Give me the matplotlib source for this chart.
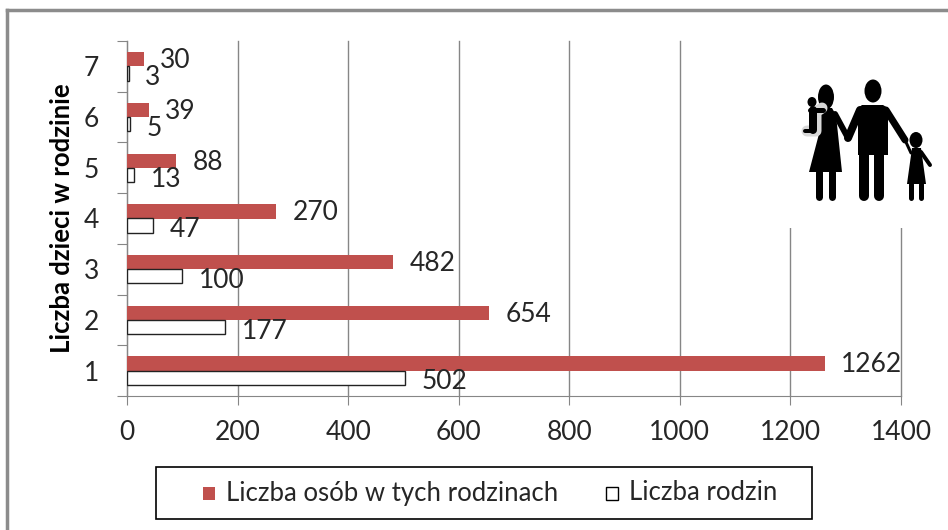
import matplotlib
matplotlib.use("Agg")
import matplotlib.pyplot as plt
from matplotlib.patches import Rectangle, Ellipse, Polygon

plt.rcParams['font.family'] = ['Lato', 'DejaVu Sans']

categories = ["1", "2", "3", "4", "5", "6", "7"]
osoby = [1262, 654, 482, 270, 88, 39, 30]
rodziny = [502, 177, 100, 47, 13, 5, 3]
x_ticks = [0, 200, 400, 600, 800, 1000, 1200, 1400]

W = 948
H = 530
TXT = "#262626"
GRID = "#868686"
RED = "#C0504D"


def px_axes(left, top, right, bottom):
    return [left / W, 1 - bottom / H, (right - left) / W, (bottom - top) / H]


def fx(x):
    return x / W


def fy(y):
    return 1 - y / H


fig = plt.figure(figsize=(W / 100, H / 100), dpi=100)
ax = fig.add_axes(px_axes(127, 41, 901, 396))

# outer frame of the pasted chart
fig.add_artist(plt.Line2D([fx(7), fx(7)], [0, fy(10)], color="#8c8c8c", lw=2.5))
fig.add_artist(plt.Line2D([fx(7), 1], [fy(10), fy(10)], color="#8c8c8c", lw=2.5))

pos = list(range(len(categories)))
bar_h = 0.28
ax.barh([p + bar_h / 2 for p in pos], osoby, height=bar_h, color=RED, zorder=3)
ax.barh([p - bar_h / 2 for p in pos], rodziny, height=bar_h, color="white",
        edgecolor="#222222", linewidth=1, zorder=3)

for p, v in zip(pos, osoby):
    ax.annotate(str(v), (v, p + bar_h / 2), xytext=(12, -1), textcoords="offset points",
                va="center", ha="left", fontsize=19, color=TXT, zorder=5)
for p, v in zip(pos, rodziny):
    ax.annotate(str(v), (v, p - bar_h / 2), xytext=(12, -3), textcoords="offset points",
                va="center", ha="left", fontsize=19, color=TXT, zorder=5)

ax.set_xlim(0, 1400)
ax.set_ylim(-0.5, 6.5)
ax.set_xticks(x_ticks)
ax.set_yticks([p - 0.5 for p in pos] + [6.5])
ax.set_yticklabels([])
ax.set_yticks(pos, minor=True)
ax.set_yticklabels(categories, minor=True)
ax.tick_params(axis="y", which="minor", length=0, labelsize=19, labelcolor=TXT, pad=20)
ax.tick_params(axis="y", which="major", length=7, color=GRID, direction="out")
ax.tick_params(axis="x", length=6.5, color=GRID, labelsize=19, labelcolor=TXT, pad=11)
ax.grid(axis="x", color=GRID, lw=1, zorder=0, clip_on=False)
ax.set_axisbelow(True)
for s in ["top", "right"]:
    ax.spines[s].set_visible(False)
ax.spines["left"].set_color(GRID)
ax.spines["bottom"].set_color(GRID)

fig.text(fx(62), fy(218), "Liczba dzieci w rodzinie", rotation=90, ha="center", va="center",
         fontsize=18.5, fontweight="bold", color="black")

# legend box
fig.add_artist(Rectangle((fx(156), fy(519)), (812 - 156) / W, (519 - 467) / H,
                         transform=fig.transFigure, fc="white", ec="black", lw=1.2))
fig.add_artist(Rectangle((fx(203), fy(500)), 12 / W, 13 / H, transform=fig.transFigure,
                         fc=RED, ec="none"))
fig.text(fx(226), fy(493), "Liczba osób w tych rodzinach", va="center", ha="left",
         fontsize=18.5, color=TXT)
fig.add_artist(Rectangle((fx(606), fy(500)), 12 / W, 13 / H, transform=fig.transFigure,
                         fc="white", ec="black", lw=1))
fig.text(fx(629), fy(493), "Liczba rodzin", va="center", ha="left", fontsize=18.5, color=TXT)

# family icon on a white patch, hides the gridlines behind it
fig.add_artist(Rectangle((fx(786), fy(228)), 162 / W, 188 / H, transform=fig.transFigure,
                         fc="white", ec="none"))


def ell(cx, cy, w, h):
    fig.add_artist(Ellipse((fx(cx), fy(cy)), w / W, h / H, transform=fig.transFigure,
                           fc="black", ec="none"))


def poly(points):
    fig.add_artist(Polygon([(fx(a), fy(b)) for a, b in points], closed=True,
                           transform=fig.transFigure, fc="black", ec="none"))


def limb(xs, ys, px_w, color="black"):
    fig.add_artist(plt.Line2D([fx(a) for a in xs], [fy(b) for b in ys], color=color,
                              lw=px_w * 0.72, solid_capstyle="round", solid_joinstyle="round"))


# father
ell(873, 91, 17, 23)
poly([(862, 105), (883, 105), (888, 108), (888, 155), (858, 155), (858, 108)])
limb([860, 848], [110, 138], 8)
limb([886, 905], [110, 140], 7)
limb([905, 911], [140, 153], 3)
limb([864, 864], [150, 196], 10)
limb([879, 879], [150, 196], 10)
# mother
ell(826, 97, 16, 25)
poly([(820, 108), (832, 108), (836, 115), (842, 172), (809, 172), (820, 130)])
limb([835, 848], [114, 138], 6)
limb([819, 819], [172, 197], 7)
limb([832, 832], [172, 197], 7)
# baby, with a light outline against the mother
limb([822, 816, 816, 807], [108, 112, 131, 131], 11, "#d8d8d8")
ell(812, 102, 9, 10)
limb([810, 823], [110, 110], 5)
limb([813, 813], [110, 130], 8)
limb([813, 805], [131, 131], 4)
# child
ell(916, 140, 13, 16)
poly([(912, 148), (921, 148), (926, 184), (907, 184)])
limb([921, 930], [152, 165], 4)
limb([911, 911], [184, 198], 5)
limb([921, 921], [184, 198], 5)

fig.savefig("out.png", dpi=100)
